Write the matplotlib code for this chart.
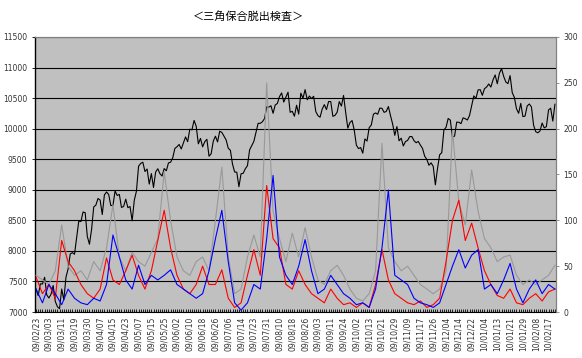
import numpy as np
import matplotlib.pyplot as plt

# index close, one value per trading day (09/02/23 .. 10/02/22)
index_close = [
    7376, 7268, 7461, 7458, 7568, 7280, 7229, 7290, 7434, 7173,
    7086, 7054, 7376, 7198, 7569, 7704, 7949, 7972, 7945, 8215,
    8488, 8480, 8636, 8626, 8236, 8109, 8351, 8719, 8749, 8857,
    8832, 8595, 8916, 8964, 8924, 8743, 8742, 8981, 8907, 8924,
    8711, 8727, 8847, 8707, 8726, 8493, 8828, 8977, 9385, 9432,
    9451, 9299, 9340, 9093, 9265, 9038, 9290, 9344, 9264, 9225,
    9347, 9311, 9439, 9451, 9522, 9677, 9704, 9741, 9668, 9768,
    9865, 9787, 9991, 9981, 10135, 10039, 9752, 9840, 9703, 9786,
    9826, 9549, 9590, 9796, 9877, 9783, 9958, 9939, 9876, 9816,
    9680, 9647, 9420, 9291, 9287, 9050, 9262, 9270, 9344, 9395,
    9652, 9723, 9792, 9944, 10088, 10087, 10113, 10165, 10357, 10352,
    10375, 10252, 10388, 10412, 10524, 10585, 10435, 10517, 10597, 10268,
    10284, 10204, 10383, 10238, 10581, 10497, 10639, 10473, 10534, 10492,
    10530, 10280, 10214, 10187, 10320, 10393, 10312, 10444, 10444, 10202,
    10217, 10270, 10443, 10370, 10544, 10265, 10009, 10100, 10133, 9978,
    9731, 9674, 9691, 9599, 9832, 9797, 10016, 10060, 10238, 10257,
    10236, 10336, 10333, 10267, 10282, 10362, 10212, 10075, 9891, 10034,
    9802, 9844, 9717, 9789, 9808, 9870, 9871, 9804, 9770, 9791,
    9730, 9676, 9549, 9497, 9401, 9441, 9383, 9081, 9345, 9572,
    9608, 9977, 10022, 10167, 10140, 9862, 9879, 10107, 10105, 10083,
    10177, 10163, 10142, 10215, 10378, 10536, 10494, 10634, 10638, 10546,
    10654, 10681, 10731, 10681, 10798, 10879, 10735, 10907, 10982, 10855,
    10764, 10737, 10868, 10590, 10512, 10325, 10252, 10414, 10198, 10205,
    10371, 10404, 10355, 10057, 9951, 9932, 9963, 10092, 10013, 10034,
    10306, 10335, 10123, 10400,
]

# right-axis series, read every 3rd trading day
gray_vals = [
    40, 35, 30, 45, 95, 50, 40, 45, 35, 55,
    45, 70, 117, 60, 45, 65, 55, 50, 65, 80,
    153, 100, 60, 45, 40, 55, 60, 45, 100, 158,
    60, 20, 25, 60, 84, 60, 250, 110, 80, 55,
    86, 60, 92, 60, 35, 30, 45, 51, 40, 25,
    15, 12, 20, 45, 184, 70, 55, 45, 50, 40,
    30, 25, 20, 25, 45, 198, 120, 95, 155, 110,
    80, 70, 55, 60, 62, 40, 30, 35, 30, 35,
    40, 51,
]
red_vals = [
    38, 20, 30, 15, 78, 55, 45, 30, 20, 15,
    25, 59, 35, 30, 45, 62, 40, 25, 45, 78,
    111, 70, 40, 25, 20, 30, 50, 30, 30, 46,
    15, 5, 10, 40, 68, 40, 138, 80, 70, 30,
    25, 45, 30, 20, 15, 10, 25, 15, 8, 10,
    5, 10, 5, 30, 68, 35, 20, 15, 10, 8,
    12, 5, 8, 15, 55, 100, 122, 78, 97, 70,
    45, 30, 18, 15, 25, 10, 8, 15, 20, 12,
    22, 25,
]
blue_vals = [
    25, 10, 30, 20, 8, 25, 15, 10, 8, 15,
    12, 30, 84, 60, 35, 25, 51, 30, 40, 35,
    40, 46, 30, 25, 20, 15, 20, 45, 80, 111,
    55, 10, 2, 10, 30, 25, 80, 149, 60, 40,
    30, 50, 79, 45, 20, 25, 40, 30, 20, 15,
    8, 10, 5, 25, 70, 133, 40, 35, 30, 15,
    10, 8, 5, 10, 30, 50, 68, 48, 62, 68,
    25, 30, 20, 35, 53, 25, 10, 25, 35, 20,
    30, 25,
]

date_labels = [
    "09/02/23", "09/03/03", "09/03/11", "09/03/19", "09/03/30", "09/04/07",
    "09/04/15", "09/04/23", "09/05/07", "09/05/15", "09/05/25", "09/06/02",
    "09/06/10", "09/06/18", "09/06/26", "09/07/06", "09/07/14", "09/07/23",
    "09/07/31", "09/08/10", "09/08/18", "09/08/26", "09/09/03", "09/09/11",
    "09/09/24", "09/10/02", "09/10/13", "09/10/21", "09/10/29", "09/11/09",
    "09/11/17", "09/11/26", "09/12/04", "09/12/14", "09/12/22", "10/01/04",
    "10/01/13", "10/01/21", "10/01/29", "10/02/08", "10/02/17",
]

plt.rcParams['font.family'] = ['DejaVu Sans']

n = len(index_close)
x_day = np.arange(n)
x_sub = np.arange(0, n, 3)

fig = plt.figure(figsize=(5.82, 3.58), dpi=100)
ax = fig.add_axes([35 / 582, 46 / 358, 521 / 582, 275 / 358])
ax.set_facecolor('#c0c0c0')

ax.plot(x_day, index_close, color='black', linewidth=0.8, zorder=3)
ax.set_xlim(-0.5, n - 0.5)
ax.set_ylim(7000, 11500)
ax.set_yticks(np.arange(7000, 11501, 500))
ax.grid(axis='y', color='black', linewidth=0.8)
ax.set_axisbelow(True)

ax2 = ax.twinx()
ax2.plot(x_sub, gray_vals, color='#999999', linewidth=0.8)
ax2.plot(x_sub, red_vals, color='#ff0000', linewidth=0.8)
ax2.plot(x_sub, blue_vals, color='#0000ff', linewidth=0.8)
ax2.set_ylim(0, 300)
ax2.set_yticks(np.arange(0, 301, 50))

ax.set_xticks(np.arange(0, n, 6))
ax.set_xticklabels(date_labels, rotation=90, fontsize=5.5, color='#333333')
ax.set_xticks(x_day, minor=True)
ax.tick_params(axis='x', which='both', direction='in', length=2.5, width=0.6)
ax.tick_params(axis='y', labelsize=5.5, length=2, width=0.6, labelcolor='#333333')
ax2.tick_params(axis='y', labelsize=5.5, length=2, width=0.6, color='#808080',
                labelcolor='#333333')

for side in ['top', 'right']:
    ax.spines[side].set_color('#808080')
    ax2.spines[side].set_color('#808080')
ax.spines['left'].set_linewidth(1.0)
ax2.spines['left'].set_visible(False)
ax2.spines['bottom'].set_visible(False)

fig.text(248 / 582, 1 - 16 / 358, "＜三角保合脱出検査＞", ha='center', va='center',
         fontsize=8, family=['Noto Sans CJK JP', 'DejaVu Sans'])

fig.savefig('out.png', dpi=100)
